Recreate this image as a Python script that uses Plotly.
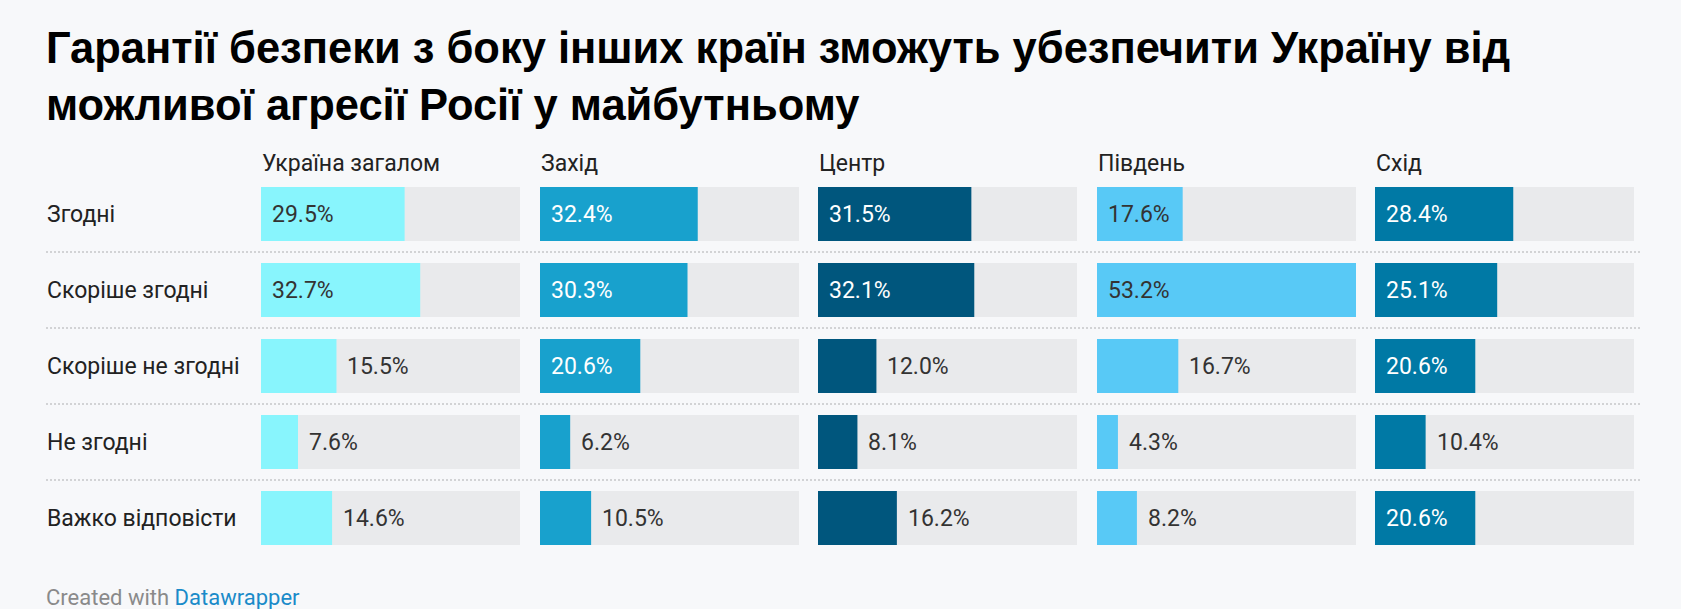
import plotly.graph_objects as go

title = "Гарантії безпеки з боку інших країн зможуть убезпечити Україну від<br>можливої агресії Росії у майбутньому"

answers = ["Згодні", "Скоріше згодні", "Скоріше не згодні", "Не згодні", "Важко відповісти"]
regions = ["Україна загалом", "Захід", "Центр", "Південь", "Схід"]

ukraine = [29.5, 32.7, 15.5, 7.6, 14.6]
west = [32.4, 30.3, 20.6, 6.2, 10.5]
centre = [31.5, 32.1, 12.0, 8.1, 16.2]
south = [17.6, 53.2, 16.7, 4.3, 8.2]
east = [28.4, 25.1, 20.6, 10.4, 20.6]

colors = ["#88f5fd", "#18a1cd", "#00567d", "#58c9f6", "#0079a5"]
label_on_bar = ["#333333", "#ffffff", "#ffffff", "#333333", "#ffffff"]

series = [ukraine, west, centre, south, east]
vmax = max(max(s) for s in series)

W, H = 1681, 609
BG = "#f7f8fa"
FONT = "Roboto"

# panel pixel layout
panel_x0 = [261, 540, 818, 1097, 1375]
panel_w = 259
plot_top, plot_bot = 176, 556

fig = go.Figure()

for i, (name, vals) in enumerate(zip(regions, series)):
    ax = "x" if i == 0 else f"x{i+1}"
    fig.add_trace(go.Bar(
        x=[vmax] * len(answers), y=answers, orientation="h",
        marker=dict(color="#e9eaec", line=dict(width=0)),
        xaxis=ax, yaxis="y", hoverinfo="skip", showlegend=False))
    fig.add_trace(go.Bar(
        x=vals, y=answers, orientation="h",
        marker=dict(color=colors[i], line=dict(width=0)),
        xaxis=ax, yaxis="y", name=name, showlegend=False))

    key = "xaxis" if i == 0 else f"xaxis{i+1}"
    fig.update_layout({key: dict(
        domain=[panel_x0[i] / W, (panel_x0[i] + panel_w) / W],
        range=[0, vmax], anchor="y", showgrid=False, zeroline=False,
        showticklabels=False, fixedrange=True)})

    # column header
    fig.add_annotation(
        text=name, xref=f"{ax} domain", yref="paper", x=0, y=1 - 163 / H,
        xanchor="left", yanchor="middle", xshift=-1, showarrow=False,
        font=dict(family=FONT, size=23, color="#222222"))

    # value labels
    for a, v in zip(answers, vals):
        inside = v > 17
        fig.add_annotation(
            text=f"{v:.1f}%", xref=ax, yref="y",
            x=0 if inside else v, y=a, xanchor="left", yanchor="middle",
            xshift=9, showarrow=False,
            font=dict(family=FONT, size=23,
                      color=label_on_bar[i] if inside else "#333333"))

# row labels
for a in answers:
    fig.add_annotation(
        text=a, xref="paper", yref="y", x=45 / W, y=a,
        xanchor="left", yanchor="middle", showarrow=False,
        font=dict(family=FONT, size=23, color="#222222"))

# dotted separators
for k in range(len(answers) - 1):
    fig.add_shape(type="line", xref="paper", yref="y",
                  x0=46 / W, x1=1642 / W, y0=k + 0.5, y1=k + 0.5,
                  line=dict(color="#d2d3d5", width=2, dash="2px,2px"))

fig.update_yaxes(
    domain=[1 - plot_bot / H, 1 - plot_top / H],
    categoryorder="array", categoryarray=answers,
    range=[len(answers) - 0.5, -0.5],
    showgrid=False, zeroline=False, showticklabels=False, fixedrange=True)

fig.add_annotation(
    text=title, xref="paper", yref="paper", x=44 / W, y=1 - 22 / H,
    xanchor="left", yanchor="top", align="left", showarrow=False,
    font=dict(family="Liberation Sans", size=43.5, color="#000000", weight="bold"))

fig.add_annotation(
    text="Created with <span style='color:#1a8bc9'>Datawrapper</span>",
    xref="paper", yref="paper", x=44 / W, y=1 - 597 / H,
    xanchor="left", yanchor="middle", showarrow=False,
    font=dict(family=FONT, size=22, color="#8a8a8a"))

fig.update_layout(
    width=W, height=H, margin=dict(l=0, r=0, t=0, b=0),
    paper_bgcolor=BG, plot_bgcolor=BG,
    barmode="overlay", bargap=0.29)

fig.write_html(
    "out.html",
    config={"displayModeBar": False},
    post_script="document.body.style.margin='0';document.body.style.background='#f7f8fa';")
